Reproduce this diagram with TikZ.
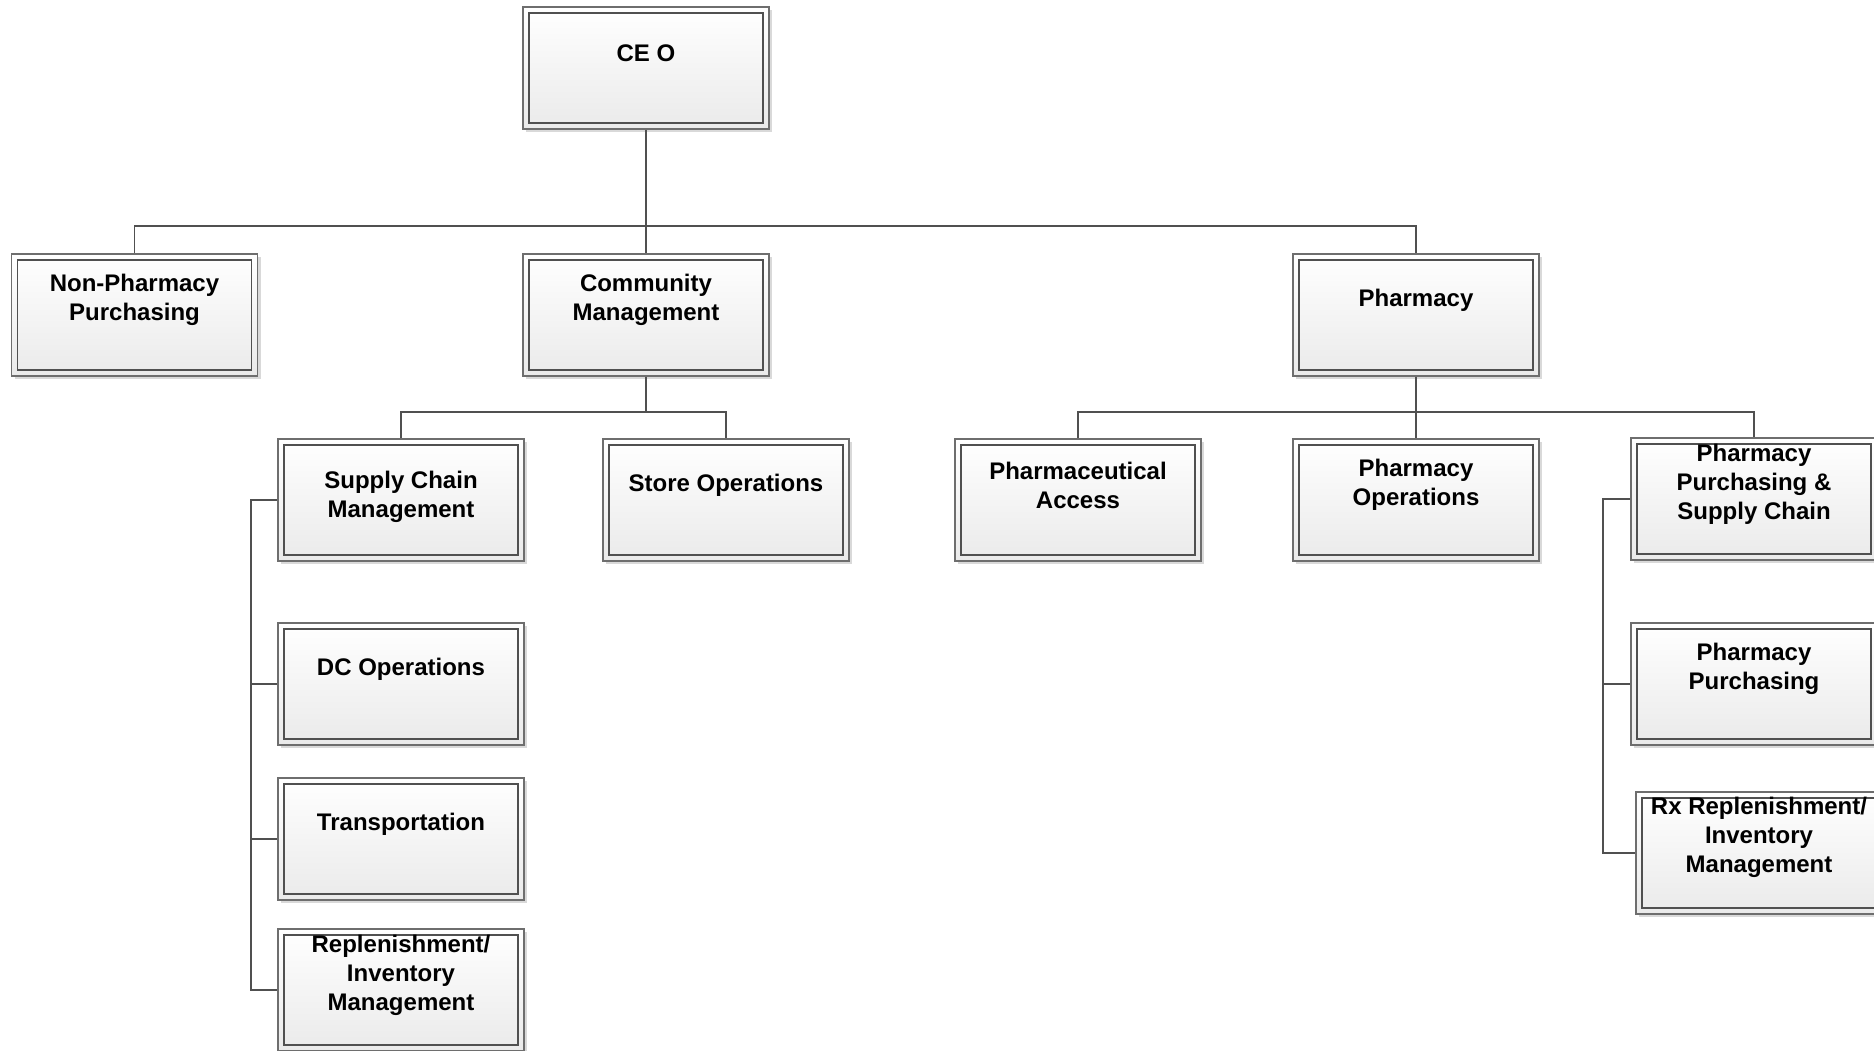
\documentclass[tikz,border=0pt]{standalone}
\usepackage{fontspec}
\setmainfont{Liberation Sans}
\usetikzlibrary{shadows,calc}
\definecolor{boxout}{HTML}{6E6E6E}
\definecolor{boxin}{HTML}{505050}
\definecolor{conncol}{HTML}{505050}
\definecolor{boxbot}{HTML}{EAEAEA}
\begin{document}
\begin{tikzpicture}[x=1pt,y=-1pt,
  orgbox/.style={draw=boxout, line width=1.7pt, minimum width=246pt, minimum height=122pt, inner sep=0pt,
    top color=white, bottom color=boxbot,
    drop shadow={shadow xshift=3pt, shadow yshift=-3pt, fill=black, opacity=0.15},
    path picture={\draw[boxin,line width=1.9pt] ([xshift=6pt,yshift=-6pt]path picture bounding box.north west) rectangle ([xshift=-6pt,yshift=6pt]path picture bounding box.south east);}},
  lbl/.style={font=\bfseries\fontsize{24}{29}\selectfont, align=center, text=black, inner sep=0pt},
  conn/.style={draw=conncol, line width=1.7pt}]
\clip (0,0) rectangle (1874,1050);
\fill[white] (0,0) rectangle (1874,1050);

\coordinate (bus1) at (646,226);
\coordinate (bus2) at (646,412);
\coordinate (bus3) at (1416,412);
\coordinate (spineL) at (251,500);
\coordinate (spineR) at (1603,499);

% boxes
\node[orgbox] (ceo)  at (646,68)   {};
\node[orgbox] (np)   at (134.5,315) {};
\node[orgbox] (cm)   at (646,315)  {};
\node[orgbox] (ph)   at (1416,315) {};
\node[orgbox] (scm)  at (401,500)  {};
\node[orgbox] (so)   at (726,500)  {};
\node[orgbox] (pa)   at (1078,500) {};
\node[orgbox] (po)   at (1416,500) {};
\node[orgbox] (ppsc) at (1754,499) {};
\node[orgbox] (dc)   at (401,684)  {};
\node[orgbox] (tr)   at (401,839)  {};
\node[orgbox] (rep)  at (401,990)  {};
\node[orgbox] (pp)   at (1754,684) {};
\node[orgbox] (rx)   at (1759,853) {};

% labels
\node[lbl] (ceo-t)  at ([yshift=15pt]ceo.center)  {CE O};
\node[lbl] (np-t)   at ([yshift=15pt]np.center)   {Non-Pharmacy\\Purchasing};
\node[lbl] (cm-t)   at ([yshift=15pt]cm.center)   {Community\\Management};
\node[lbl] (ph-t)   at ([yshift=15pt]ph.center)   {Pharmacy};
\node[lbl] (scm-t)  at ([yshift=3pt]scm.center)   {Supply Chain\\Management};
\node[lbl] (so-t)   at ([yshift=15pt]so.center)   {Store Operations};
\node[lbl] (pa-t)   at ([yshift=15pt]pa.center)   {Pharmaceutical\\Access};
\node[lbl] (po-t)   at ([yshift=15pt]po.center)   {Pharmacy\\Operations};
\node[lbl] (ppsc-t) at ([yshift=15pt]ppsc.center) {Pharmacy\\Purchasing \&\\Supply Chain};
\node[lbl] (dc-t)   at ([yshift=15pt]dc.center)   {DC Operations};
\node[lbl] (tr-t)   at ([yshift=15pt]tr.center)   {Transportation};
\node[lbl] (rep-t)  at ([yshift=15pt]rep.center)  {Replenishment/\\Inventory\\Management};
\node[lbl] (pp-t)   at ([yshift=15pt]pp.center)   {Pharmacy\\Purchasing};
\node[lbl] (rx-t)   at ([yshift=16pt]rx.center)   {Rx Replenishment/\\Inventory\\Management};

% connectors
\draw[conn] (ceo.south) -- (cm.north);
\draw[conn] (np.north) |- (bus1) -| (ph.north);
\draw[conn] (cm.south) -- (bus2);
\draw[conn] (scm.north) |- (bus2) -| (so.north);
\draw[conn] (ph.south) -- (po.north);
\draw[conn] (pa.north) |- (bus3) -| (ppsc.north);
\draw[conn] (scm.west) -- (spineL) |- (rep.west);
\draw[conn] (spineL) |- (dc.west);
\draw[conn] (spineL) |- (tr.west);
\draw[conn] (ppsc.west) -- (spineR) |- (rx.west);
\draw[conn] (spineR) |- (pp.west);
\end{tikzpicture}
\end{document}
